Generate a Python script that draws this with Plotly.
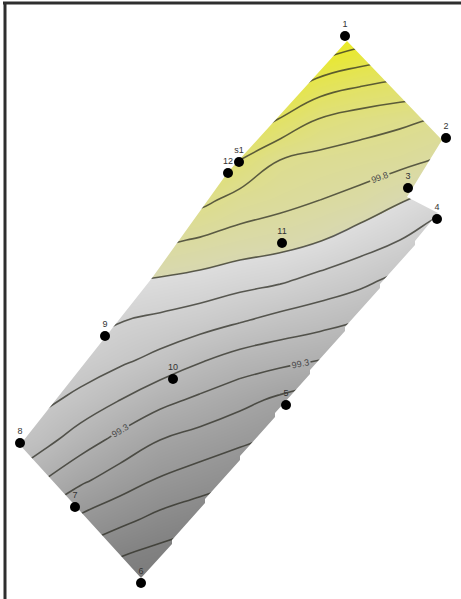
import plotly.graph_objects as go

# ---- sample sites (labels and locations, screen units) ----
site_names = ["1", "2", "3", "4", "5", "6", "7", "8", "9", "10", "11", "12", "s1"]
site_x = [345, 446, 408, 437, 286, 141, 75, 20, 105, 173, 282, 228, 239]
site_y = [36, 138, 188, 219, 405, 583, 507, 443, 336, 379, 243, 173, 162]

# ---- estimated surface ----
grid_x = [0, 40, 80, 120, 160, 200, 240, 280, 320, 360, 400, 440, 480]
grid_y = [0, 40, 80, 120, 160, 200, 240, 280, 320, 360, 400, 440, 480, 520, 560, 600]
z_rows = [
    [100.75, 100.70, 100.68, 100.67, 100.68, 100.75, 100.75, 100.70, 100.62, 100.55, 100.50, 100.47, 100.44],
    [100.62, 100.58, 100.56, 100.55, 100.56, 100.63, 100.60, 100.50, 100.42, 100.34, 100.30, 100.28, 100.25],
    [100.50, 100.46, 100.43, 100.42, 100.43, 100.47, 100.40, 100.30, 100.18, 100.13, 100.10, 100.09, 100.06],
    [100.38, 100.33, 100.30, 100.27, 100.28, 100.29, 100.20, 100.09, 99.99, 99.95, 99.92, 99.89, 99.86],
    [100.26, 100.20, 100.17, 100.12, 100.11, 100.11, 100.00, 99.90, 99.87, 99.85, 99.83, 99.79, 99.74],
    [100.14, 100.07, 100.03, 99.98, 99.96, 99.93, 99.86, 99.83, 99.80, 99.77, 99.71, 99.65, 99.59],
    [100.02, 99.94, 99.90, 99.83, 99.82, 99.79, 99.76, 99.74, 99.705, 99.65, 99.60, 99.52, 99.46],
    [99.90, 99.83, 99.77, 99.71, 99.69, 99.67, 99.64, 99.615, 99.57, 99.53, 99.47, 99.40, 99.34],
    [99.80, 99.725, 99.66, 99.605, 99.58, 99.55, 99.51, 99.47, 99.44, 99.40, 99.34, 99.27, 99.21],
    [99.70, 99.625, 99.565, 99.52, 99.47, 99.41, 99.36, 99.33, 99.30, 99.27, 99.21, 99.14, 99.08],
    [99.60, 99.53, 99.47, 99.40, 99.33, 99.28, 99.23, 99.18, 99.14, 99.13, 99.08, 99.01, 98.95],
    [99.50, 99.44, 99.35, 99.27, 99.20, 99.16, 99.12, 99.08, 99.02, 99.00, 98.95, 98.88, 98.82],
    [99.40, 99.31, 99.22, 99.15, 99.09, 99.05, 99.01, 98.97, 98.89, 98.87, 98.82, 98.75, 98.69],
    [99.27, 99.17, 99.08, 99.025, 98.97, 98.93, 98.89, 98.85, 98.77, 98.74, 98.69, 98.62, 98.56],
    [99.13, 99.03, 98.955, 98.89, 98.85, 98.81, 98.77, 98.74, 98.65, 98.61, 98.56, 98.49, 98.43],
    [98.99, 98.90, 98.83, 98.77, 98.73, 98.69, 98.645, 98.62, 98.53, 98.48, 98.43, 98.36, 98.30],
]

# ---- site boundary (clockwise, screen units) ----
boundary_x = [347, 442, 407, 438, 415, 415, 380, 380, 345, 345, 310, 310, 275, 275,
              240, 240, 205, 205, 172, 172, 141, 20, 152, 228]
boundary_y = [41, 140, 197, 213, 241, 245, 284, 288, 327, 331, 370, 374, 413, 417,
              456, 460, 499, 503, 540, 544, 578, 445, 278, 172]

# contour levels
plain_groups = [(98.8, 99.2), (99.4, 99.7), (99.9, 100.3)]
level_step = 0.1
label_99_3 = 99.3
label_99_8 = 99.8

W, H = 461, 599


def sub(x0, x1, y0, y1):
    ci = [i for i, v in enumerate(grid_x) if x0 <= v <= x1]
    ri = [j for j, v in enumerate(grid_y) if y0 <= v <= y1]
    return ([grid_x[i] for i in ci], [grid_y[j] for j in ri],
            [[z_rows[j][i] for i in ci] for j in ri])


fig = go.Figure()

zmin, zmax = 98.7, 100.4


def nz(v):
    return (v - zmin) / (zmax - zmin)


colorscale = [
    [nz(98.7), "rgb(114,114,114)"],
    [nz(98.9), "rgb(130,130,130)"],
    [nz(99.1), "rgb(152,152,152)"],
    [nz(99.3), "rgb(175,175,175)"],
    [nz(99.5), "rgb(198,198,198)"],
    [nz(99.7), "rgb(221,221,221)"],
    [nz(99.7) + 0.0008, "rgb(216,216,176)"],
    [nz(99.9), "rgb(221,221,142)"],
    [nz(100.1), "rgb(226,226,100)"],
    [nz(100.3), "rgb(232,232,52)"],
    [1.0, "rgb(236,236,30)"],
]

fig.add_trace(go.Heatmap(
    x=grid_x, y=grid_y, z=z_rows, zmin=zmin, zmax=zmax,
    colorscale=colorscale, zsmooth="best", showscale=False, hoverinfo="skip",
))

line_style = dict(color="rgba(45,45,35,0.74)", width=1.6, smoothing=1.3)
label_font = dict(size=9, color="#4a4a4a", family="Liberation Sans")


def add_lines(gx, gy, gz, start, end, labels=False):
    c = dict(start=start, end=end + 1e-6, size=level_step, coloring="none")
    if labels:
        c.update(showlabels=True, labelfont=label_font)
    fig.add_trace(go.Contour(
        x=gx, y=gy, z=gz, showscale=False, hoverinfo="skip",
        autocontour=False, contours=c, line=line_style,
    ))


for s, e in plain_groups:
    add_lines(grid_x, grid_y, z_rows, s, e)

# 99.3: labelled stretches, plain stretches elsewhere
for (x0, x1, y0, y1, lab) in [(0, 40, 0, 600, False), (40, 200, 360, 520, True),
                              (200, 240, 0, 600, False), (240, 360, 320, 400, True),
                              (360, 480, 0, 600, False)]:
    gx, gy, gz = sub(x0, x1, y0, y1)
    add_lines(gx, gy, gz, label_99_3, label_99_3, lab)

# 99.8
for (x0, x1, y0, y1, lab) in [(0, 320, 0, 600, False), (320, 440, 120, 240, True),
                              (440, 480, 0, 600, False)]:
    gx, gy, gz = sub(x0, x1, y0, y1)
    add_lines(gx, gy, gz, label_99_8, label_99_8, lab)

# white mask outside the site boundary (keyhole polygon)
outer_x = [-60, 540, 540, -60, -60]
outer_y = [-60, -60, 660, 660, -60]
inner_x = [boundary_x[0]] + boundary_x[::-1]
inner_y = [boundary_y[0]] + boundary_y[::-1]
fig.add_trace(go.Scatter(
    x=outer_x + inner_x + [-60], y=outer_y + inner_y + [-60],
    mode="lines", fill="toself", fillcolor="white",
    line=dict(width=0, color="white"), hoverinfo="skip", showlegend=False,
))

# sample points
fig.add_trace(go.Scatter(
    x=site_x, y=site_y, mode="markers+text", text=site_names,
    textposition="top center",
    textfont=dict(size=9, color="#333333", family="Liberation Sans"),
    marker=dict(size=10, color="black"),
    hoverinfo="text", showlegend=False,
))

fig.update_layout(
    width=W, height=H,
    margin=dict(l=0, r=0, t=0, b=0),
    paper_bgcolor="white", plot_bgcolor="white",
    showlegend=False,
    xaxis=dict(range=[0, W], visible=False, fixedrange=True),
    yaxis=dict(range=[H, 0], visible=False, fixedrange=True),
    shapes=[
        dict(type="line", xref="x", yref="y", x0=3, y0=3, x1=470, y1=3,
             line=dict(color="#2e2e2e", width=3)),
        dict(type="line", xref="x", yref="y", x0=5, y0=2, x1=5, y1=610,
             line=dict(color="#2e2e2e", width=3)),
    ],
)

fig.write_html("out.html", config={"displayModeBar": False},
               post_script="document.body.style.margin='0px';")
